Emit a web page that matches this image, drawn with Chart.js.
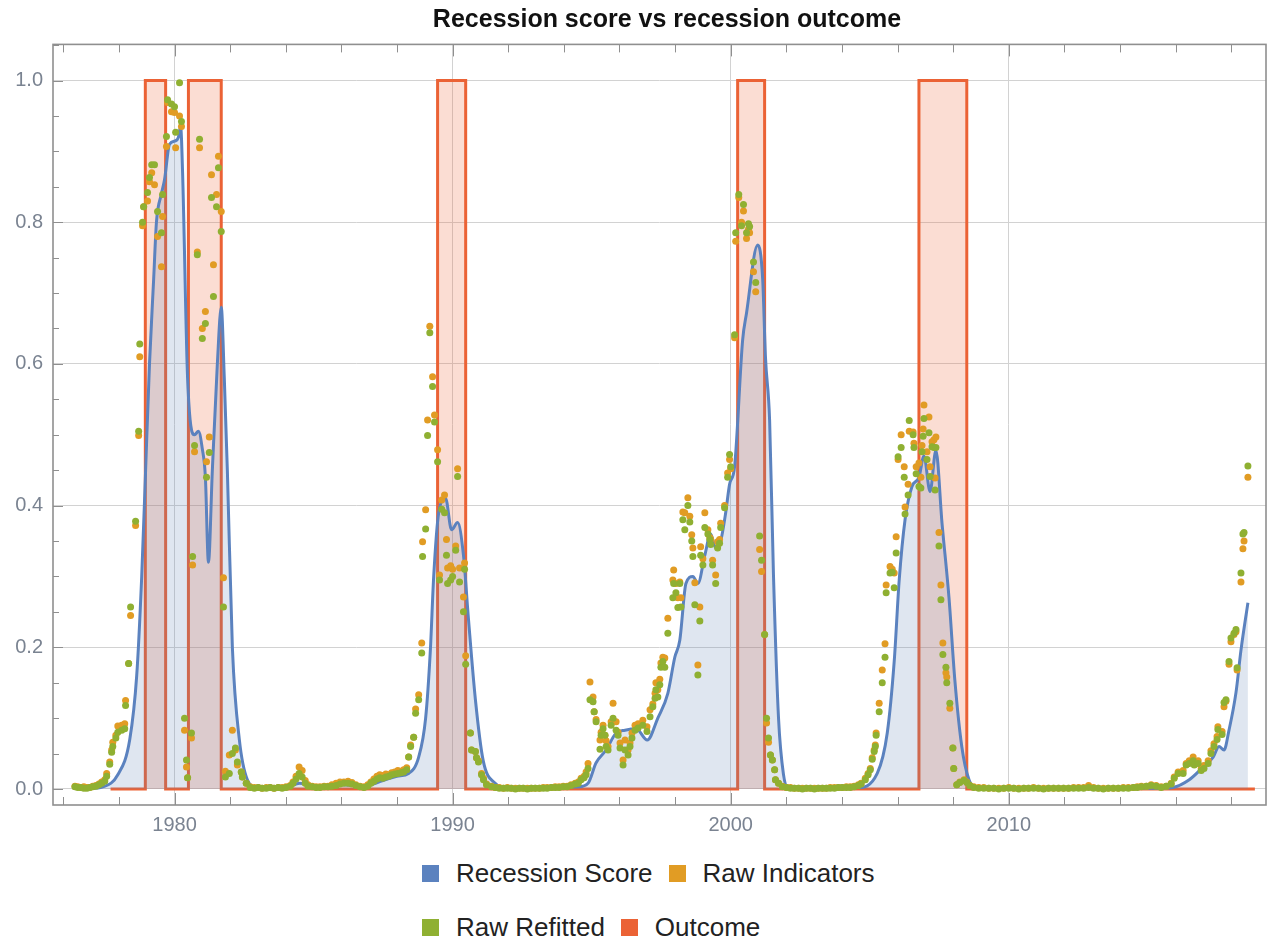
<!DOCTYPE html>
<html>
<head>
<meta charset="utf-8">
<title>Recession score vs recession outcome</title>
<script src="https://cdn.jsdelivr.net/npm/chart.js@4.4.1/dist/chart.umd.min.js"></script>
<style>
  body{margin:0;background:#fff;font-family:'Liberation Sans',Arial,sans-serif;}
  #wrap{position:relative;width:1270px;height:940px;overflow:hidden;}
  #chart{position:absolute;left:0;top:0;}
  #title{position:absolute;left:367px;width:600px;top:4px;text-align:center;font-weight:bold;font-size:25px;color:#111;white-space:nowrap;}
  .lrow{position:absolute;left:422px;height:36px;display:flex;align-items:center;font-size:26px;color:#222;white-space:nowrap;}
  .lrow .sw{width:17px;height:17px;margin-right:17px;}
  .lrow .txt{margin-right:16px;}
</style>
</head>
<body>
<div id="wrap">
  <canvas id="chart" width="1270" height="850"></canvas>
  <div id="title">Recession score vs recession outcome</div>
  <div class="lrow" id="legRow1" style="top:855px"></div>
  <div class="lrow" id="legRow2" style="top:909px"></div>
</div>
<script>
// axis ranges and ticks
const xMin = 1975.63, xMax = 2019.25;
const yMin = -0.0226, yMax = 1.051;
const xMajorTicks = [1980, 1990, 2000, 2010];
const yMajorTicks = [0, 0.2, 0.4, 0.6, 0.8, 1.0];

// recession score (smoothed line)
const scoreYears = [1976.42,1977.00,1977.42,1977.96,1978.39,1978.64,1978.82,1978.96,1979.10,1979.25,1979.35,1979.53,1979.64,1979.82,1980.04,1980.14,1980.22,1980.29,1980.47,1980.72,1980.86,1981.00,1981.11,1981.22,1981.36,1981.54,1981.68,1981.79,1981.90,1982.08,1982.33,1982.62,1982.97,
  1984.00,1984.50,1985.00,1986.00,1986.80,1987.50,1988.00,1988.42,1988.78,1989.03,1989.20,1989.32,1989.50,1989.75,1989.96,1990.18,1990.39,1990.57,1990.82,1991.10,1991.53,1992.00,
  1994.52,1994.87,1995.16,1995.52,1995.88,1996.20,1996.60,1997.00,1997.38,1997.74,1997.99,1998.17,1998.39,1998.64,1998.82,1999.07,1999.28,1999.46,1999.64,1999.82,1999.96,2000.14,2000.43,2000.57,2000.97,2001.15,2001.25,2001.40,2001.54,2001.72,2001.90,2002.05,
  2004.55,2005.27,2005.63,2005.88,2006.06,2006.27,2006.52,2006.77,2006.95,2007.17,2007.38,2007.60,2007.85,2008.06,2008.31,2008.57,2008.85,
  2015.50,2015.90,2016.49,2016.99,2017.35,2017.56,2017.74,2017.92,2018.17,2018.35,2018.60];
const scoreValues = [0.001,0.001,0.003,0.020,0.070,0.160,0.300,0.450,0.600,0.720,0.800,0.840,0.860,0.910,0.915,0.920,0.935,0.870,0.580,0.500,0.505,0.480,0.440,0.320,0.450,0.600,0.680,0.580,0.450,0.200,0.070,0.013,0.002,
  0.002,0.008,0.004,0.006,0.004,0.012,0.018,0.022,0.045,0.100,0.196,0.300,0.390,0.410,0.366,0.376,0.330,0.240,0.126,0.040,0.008,0.001,
  0.003,0.008,0.037,0.055,0.079,0.083,0.085,0.069,0.100,0.135,0.186,0.210,0.290,0.300,0.290,0.330,0.360,0.340,0.350,0.390,0.430,0.455,0.634,0.672,0.768,0.720,0.610,0.520,0.300,0.100,0.020,0.002,
  0.002,0.022,0.079,0.180,0.295,0.380,0.427,0.440,0.470,0.420,0.478,0.375,0.270,0.154,0.060,0.013,0.001,
  0.001,0.002,0.013,0.031,0.045,0.060,0.055,0.083,0.136,0.196,0.263];

// raw indicator / refitted readings (same dates)
const rawYears = [
  1976.42,1976.52,1976.63,1976.74,1976.85,1976.95,1977.06,1977.17,1977.28,1977.38,1977.49,
  1977.56,1977.67,1977.74,1977.78,1977.89,1977.96,1978.10,1978.21,1978.24,
  1978.35,1978.42,1978.60,1978.71,1978.75,1978.85,1978.89,1979.03,1979.10,1979.18,1979.28,1979.39,1979.53,1979.57,1979.71,1979.75,1979.89,1980.00,1980.04,1980.18,1980.25,
  1980.36,1980.43,1980.47,1980.61,1980.65,1980.72,1980.82,1980.90,1981.00,1981.11,1981.15,1981.25,1981.33,1981.40,1981.51,1981.58,1981.68,
  1981.76,1981.83,1981.97,1982.08,1982.19,1982.26,1982.40,1982.44,1982.58,
  1982.72,1982.87,1983.01,1983.15,1983.30,1983.44,1983.58,1983.73,1983.87,1984.01,1984.16,1984.26,1984.37,1984.48,1984.59,1984.70,1984.80,1984.95,
  1985.09,1985.23,1985.38,1985.52,1985.66,1985.81,1985.95,1986.09,1986.24,1986.38,1986.52,1986.67,1986.81,1986.95,1987.06,1987.17,1987.28,1987.38,1987.49,1987.60,1987.71,1987.81,1987.92,1988.03,1988.14,1988.24,1988.35,
  1988.42,1988.49,1988.60,1988.67,1988.78,1988.89,1988.92,1989.03,1989.10,1989.18,1989.28,1989.35,1989.46,
  1989.53,1989.61,1989.71,1989.78,1989.82,1989.93,1990.00,1990.11,1990.18,1990.25,1990.39,1990.43,1990.47,
  1990.64,1990.68,1990.82,1990.86,1990.93,1991.04,1991.11,1991.22,1991.40,
  1991.54,1991.68,1991.83,1991.97,1992.11,1992.26,1992.40,1992.54,1992.69,1992.83,1992.97,1993.12,1993.26,1993.40,1993.55,1993.69,1993.83,1993.98,1994.12,1994.26,1994.41,1994.52,1994.62,1994.73,1994.80,1994.87,
  1994.94,1995.05,1995.09,1995.16,1995.30,1995.34,1995.41,1995.48,1995.52,1995.59,1995.70,1995.77,1995.88,1995.95,1996.02,1996.13,1996.20,1996.31,1996.38,1996.45,1996.56,1996.67,1996.84,1996.99,
  1997.10,1997.20,1997.28,1997.31,1997.38,1997.45,1997.49,1997.56,1997.63,1997.74,1997.92,1997.95,1998.03,1998.10,1998.17,1998.21,1998.28,1998.35,1998.46,1998.53,1998.60,1998.64,1998.71,1998.82,1998.89,1998.92,1999.00,1999.07,1999.18,1999.25,1999.28,1999.35,1999.46,1999.53,1999.60,1999.64,1999.78,1999.89,1999.96,2000.00,
  2000.14,2000.18,2000.29,2000.39,2000.46,2000.57,2000.64,2000.68,2000.82,2000.90,2001.04,2001.11,2001.22,2001.29,2001.36,2001.43,2001.50,2001.58,2001.61,2001.72,
  2001.86,2002.01,2002.15,2002.29,2002.44,2002.58,2002.72,2002.87,2003.01,2003.15,2003.30,2003.44,2003.58,2003.73,2003.87,2004.01,2004.16,2004.30,2004.44,2004.59,2004.69,2004.84,2004.94,2005.02,2005.09,2005.16,2005.20,2005.23,
  2005.34,2005.45,2005.55,2005.59,2005.73,2005.81,2005.88,2005.95,2006.02,2006.13,2006.24,2006.27,2006.38,2006.42,2006.56,2006.59,2006.67,2006.77,2006.84,2006.88,2006.92,2006.95,2007.06,2007.13,2007.17,2007.24,2007.31,2007.35,2007.38,2007.49,2007.56,2007.63,2007.74,2007.77,2007.88,2007.99,2008.02,2008.13,2008.24,2008.39,2008.49,2008.60,
  2008.74,2008.92,2009.10,2009.28,2009.46,2009.64,2009.82,2010.00,2010.18,2010.36,2010.54,2010.71,2010.89,2011.07,2011.25,2011.43,2011.61,2011.79,2011.97,2012.15,2012.33,2012.51,2012.69,2012.87,2013.05,2013.22,2013.40,2013.58,2013.76,2013.94,2014.12,2014.30,2014.48,
  2014.62,2014.77,2014.95,2015.12,2015.30,2015.48,2015.66,2015.84,2015.95,2016.09,2016.27,2016.38,2016.49,2016.63,2016.67,2016.81,2016.92,2017.02,2017.17,2017.27,2017.38,2017.49,2017.52,2017.67,2017.74,2017.81,2017.92,2017.99,2018.10,2018.17,2018.21,2018.35,2018.42,2018.46,2018.60];
const rawIndicators = [
  .004,.003,.002,.003,.002,.002,.004,.005,.007,.010,.013,
  .022,.038,.055,.066,.076,.089,.090,.092,.125,
  .177,.245,.372,.499,.610,.795,.822,.830,.857,.870,.853,.780,.737,.808,.907,.969,.956,.955,.905,.950,.935,
  .083,.031,.016,.072,.316,.476,.758,.905,.650,.674,.462,.497,.867,.740,.839,.893,.815,
  .298,.025,.048,.083,.055,.034,.024,.017,.008,
  .003,.002,.002,.001,.002,.002,.001,.002,.002,.003,.005,.010,.018,.031,.026,.012,.006,.004,
  .003,.003,.004,.004,.006,.008,.010,.010,.011,.009,.006,.004,.003,.006,.010,.014,.018,.020,.019,.021,.020,.023,.024,.026,.025,.027,.030,
  .045,.062,.073,.113,.133,.206,.349,.394,.521,.653,.582,.528,.479,
  .302,.408,.415,.352,.312,.315,.310,.343,.452,.312,.271,.319,.188,
  .079,.055,.053,.044,.040,.022,.015,.007,.004,
  .002,.002,.001,.002,.001,.001,.001,.001,.001,.001,.001,.001,.002,.002,.002,.003,.003,.004,.004,.006,.008,.010,.015,.018,.024,.036,
  .151,.130,.109,.098,.069,.080,.090,.076,.068,.060,.095,.121,.095,.080,.065,.041,.069,.055,.065,.079,.090,.092,.097,.088,
  .112,.120,.135,.150,.140,.155,.178,.186,.185,.241,.295,.309,.290,.270,.292,.270,.391,.390,.411,.385,.359,.340,.291,.175,.257,.342,.325,.390,.366,.355,.352,.323,.302,.349,.352,.375,.400,.446,.465,.452,
  .637,.773,.835,.800,.816,.777,.790,.785,.730,.702,.338,.307,.218,.093,.066,.048,.041,.027,.013,.008,
  .004,.002,.002,.001,.001,.001,.001,.001,.001,.001,.001,.001,.002,.002,.002,.002,.003,.003,.004,.006,.008,.015,.022,.029,.044,.055,.062,.079,
  .121,.168,.205,.288,.314,.310,.305,.356,.465,.500,.455,.398,.430,.505,.504,.488,.455,.460,.440,.485,.508,.542,.476,.525,.455,.490,.493,.439,.497,.362,.288,.206,.164,.158,.114,.058,.029,.006,.010,.013,.010,.005,
  .003,.002,.002,.001,.001,.001,.001,.002,.001,.001,.001,.001,.002,.001,.001,.001,.001,.001,.001,.001,.002,.002,.002,.005,.002,.001,.001,.001,.001,.001,.002,.002,.002,
  .003,.004,.004,.006,.005,.003,.004,.008,.017,.024,.026,.036,.040,.045,.038,.040,.029,.033,.040,.054,.064,.074,.088,.081,.116,.124,.176,.208,.218,.222,.168,.292,.339,.350,.440];
const rawRefitted = [
  .003,.002,.002,.001,.001,.002,.003,.004,.006,.008,.011,
  .018,.035,.052,.060,.072,.080,.083,.085,.118,
  .177,.257,.378,.505,.628,.800,.822,.842,.863,.881,.881,.815,.785,.839,.921,.973,.967,.963,.927,.997,.942,
  .100,.041,.016,.079,.328,.485,.754,.917,.636,.657,.440,.475,.835,.695,.822,.877,.787,
  .257,.017,.022,.050,.058,.038,.024,.017,.008,
  .002,.001,.002,.001,.001,.002,.001,.002,.001,.002,.004,.008,.014,.022,.017,.008,.004,.003,
  .002,.002,.003,.003,.004,.005,.007,.008,.008,.007,.005,.003,.002,.004,.008,.011,.014,.016,.015,.017,.018,.020,.021,.022,.023,.024,.027,
  .045,.060,.073,.107,.126,.192,.328,.367,.499,.644,.568,.518,.462,
  .295,.395,.390,.330,.290,.295,.300,.337,.441,.292,.250,.310,.176,
  .079,.055,.053,.044,.038,.020,.013,.006,.003,
  .002,.001,.001,.001,.001,.000,.001,.001,.000,.001,.001,.001,.001,.001,.002,.002,.002,.003,.003,.005,.007,.008,.013,.016,.020,.029,
  .126,.123,.109,.095,.056,.076,.085,.076,.060,.055,.090,.100,.083,.076,.058,.034,.055,.048,.060,.072,.083,.086,.090,.081,
  .102,.116,.128,.140,.130,.147,.172,.180,.172,.220,.270,.290,.277,.256,.290,.257,.380,.366,.400,.377,.350,.328,.260,.161,.237,.330,.316,.369,.360,.352,.345,.316,.290,.340,.347,.369,.397,.440,.472,.455,
  .641,.785,.839,.795,.825,.785,.798,.794,.744,.715,.357,.323,.218,.100,.072,.048,.041,.027,.013,.008,
  .003,.002,.001,.001,.001,.000,.001,.001,.000,.001,.001,.001,.001,.001,.002,.002,.002,.002,.003,.005,.007,.013,.020,.027,.042,.053,.060,.076,
  .109,.150,.186,.277,.305,.306,.284,.333,.469,.482,.440,.388,.415,.520,.500,.482,.445,.427,.425,.476,.498,.523,.465,.503,.441,.483,.482,.422,.482,.343,.267,.190,.172,.150,.121,.058,.029,.006,.009,.012,.009,.005,
  .002,.001,.001,.001,.001,.000,.001,.001,.001,.000,.001,.001,.001,.001,.000,.001,.001,.001,.001,.001,.001,.001,.001,.002,.001,.001,.000,.001,.001,.001,.001,.001,.002,
  .002,.003,.004,.005,.004,.002,.004,.007,.015,.022,.022,.034,.036,.040,.034,.036,.026,.029,.036,.050,.060,.070,.084,.077,.122,.126,.180,.213,.220,.225,.171,.305,.360,.362,.456];

// recession outcome: value switches at these dates
const outcomeYears = [1977.70,1978.95,1979.68,1980.50,1981.68,1989.46,1990.47,2000.25,2001.22,2006.77,2008.49,2018.85];
const outcomeValues = [0,1,0,1,0,1,0,1,0,1,0,0];

const seriesColors = {score:'#5b82bf', indicators:'#e19c24', refitted:'#8fb032', outcome:'#eb6235'};

function pts(xs, ys){ return xs.map((x,i)=>({x:x, y:ys[i]})).filter(p=>p.y!==undefined); }

// inward ticks on the frame, like the original plot
const frameTicks = {
  id:'frameTicks',
  afterDraw(chart){
    const {ctx, chartArea:a, scales:{x,y}} = chart;
    ctx.save();
    ctx.strokeStyle='#8f8f8f';
    ctx.lineWidth=1;
    ctx.beginPath();
    for(let yr=1976; yr<=2018; yr+=2){
      const px=Math.round(x.getPixelForValue(yr))+0.5;
      const len = yr%10===0 ? 12 : 8;
      ctx.moveTo(px,a.bottom); ctx.lineTo(px,a.bottom-len);
      ctx.moveTo(px,a.top); ctx.lineTo(px,a.top+len);
    }
    for(let k=0;k<=21;k++){
      const py=Math.round(y.getPixelForValue(k*0.05))+0.5;
      const len = k%4===0 ? 10 : 6;
      ctx.moveTo(a.left,py); ctx.lineTo(a.left+len,py);
    }
    ctx.stroke();
    ctx.lineWidth=1.6;
    ctx.strokeRect(a.left,a.top,a.right-a.left,a.bottom-a.top);
    ctx.restore();
  }
};

const tickFont = {family:'Liberation Sans', size:20};

const chart = new Chart(document.getElementById('chart').getContext('2d'), {
  type:'line',
  data:{datasets:[
    {label:'Recession Score', data:pts(scoreYears,scoreValues), borderColor:seriesColors.score,
     backgroundColor:'rgba(94,129,181,0.2)', fill:'origin', borderWidth:3, pointRadius:0,
     cubicInterpolationMode:'monotone', order:2},
    {label:'Raw Indicators', data:pts(rawYears,rawIndicators), showLine:false, pointRadius:3.5,
     pointBorderWidth:0, pointBackgroundColor:seriesColors.indicators, borderColor:seriesColors.indicators,
     backgroundColor:seriesColors.indicators, order:1},
    {label:'Raw Refitted', data:pts(rawYears,rawRefitted), showLine:false, pointRadius:3.5,
     pointBorderWidth:0, pointBackgroundColor:seriesColors.refitted, borderColor:seriesColors.refitted,
     backgroundColor:seriesColors.refitted, order:0},
    {label:'Outcome', data:pts(outcomeYears,outcomeValues), stepped:'before', borderColor:seriesColors.outcome,
     backgroundColor:'rgba(235,98,53,0.22)', fill:'origin', borderWidth:3, pointRadius:0, order:3}
  ]},
  options:{
    responsive:false, animation:false, devicePixelRatio:1,
    layout:{padding:{top:44.4, left:0, right:0, bottom:0}},
    plugins:{
      legend:{display:false},
      tooltip:{enabled:false},
      title:{display:false}
    },
    scales:{
      x:{type:'linear', min:xMin, max:xMax,
        afterBuildTicks:s=>{ s.ticks = xMajorTicks.map(v=>({value:v})); },
        afterFit:s=>{ s.height=45; },
        ticks:{callback:v=>String(v), color:'#7a8391', font:tickFont, padding:8, maxRotation:0, autoSkip:false},
        grid:{color:'#d2d2d2', drawTicks:false, lineWidth:1},
        border:{display:false}},
      y:{type:'linear', min:yMin, max:yMax,
        afterBuildTicks:s=>{ s.ticks = yMajorTicks.map(v=>({value:v})); },
        afterFit:s=>{ s.width=53; },
        ticks:{callback:v=>v.toFixed(1), color:'#7a8391', font:tickFont, padding:10},
        grid:{color:'#d2d2d2', drawTicks:false, lineWidth:1},
        border:{display:false}}
    }
  },
  plugins:[frameTicks]
});

// legend in two rows under the plot
const legendColors = [seriesColors.score, seriesColors.indicators, seriesColors.refitted, seriesColors.outcome];
chart.data.datasets.forEach((ds,i)=>{
  const row = document.getElementById(i<2 ? 'legRow1' : 'legRow2');
  const sw = document.createElement('span'); sw.className='sw'; sw.style.background=legendColors[i];
  const tx = document.createElement('span'); tx.className='txt'; tx.textContent=ds.label;
  row.appendChild(sw); row.appendChild(tx);
});
</script>
</body>
</html>
